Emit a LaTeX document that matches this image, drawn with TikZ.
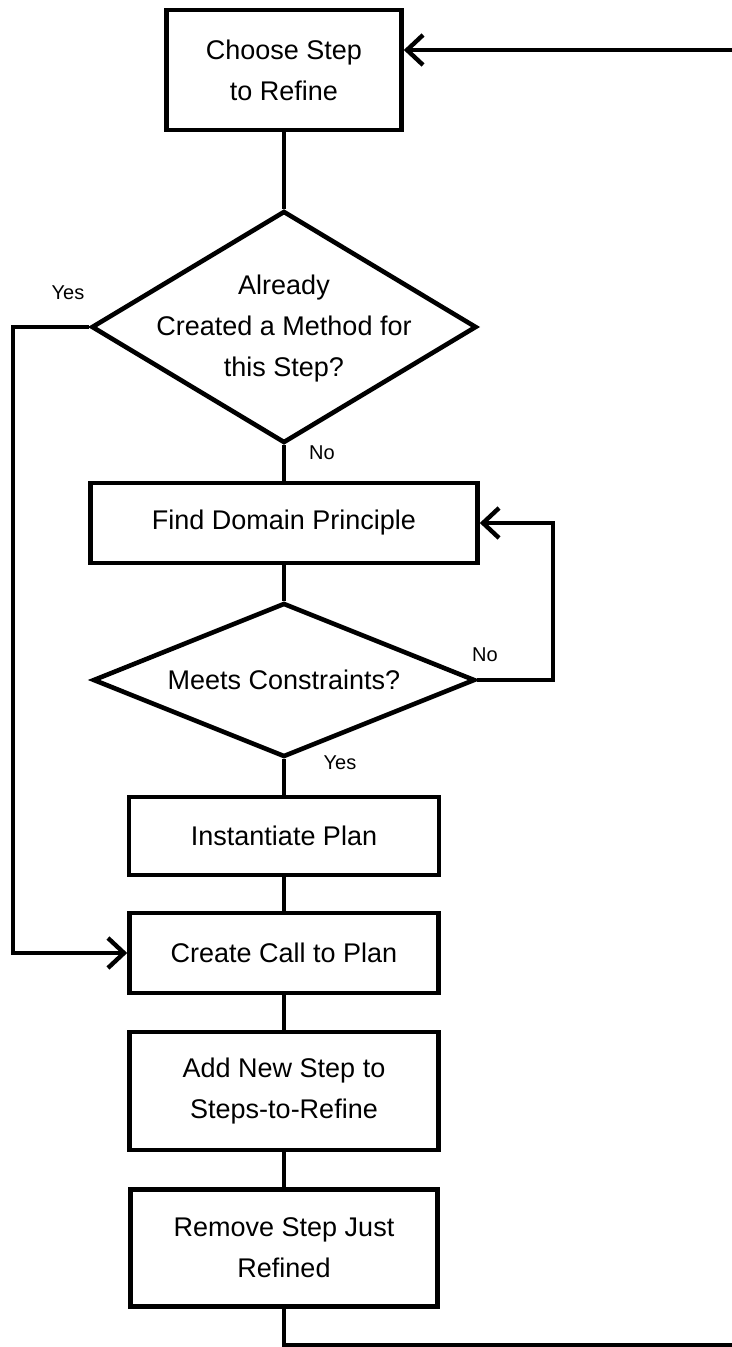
\documentclass[tikz,border=0pt]{standalone}
\usepackage{fontspec}
\setmainfont{Liberation Sans}
\usepackage{tikz}
\usetikzlibrary{positioning,arrows.meta,shapes.geometric}

\begin{document}
\begin{tikzpicture}[
    x=0.5pt, y=-0.5pt,
    every node/.style={font=\fontsize{13.5}{20.5}\selectfont, align=center},
    procbox/.style={draw, line width=2.3pt, rectangle, inner sep=0pt},
    decision/.style={draw, line width=2.3pt, diamond, aspect=2, inner sep=0pt},
    flowline/.style={draw, line width=2.2pt},
    flowarrow/.style={flowline, -{Straight Barb[length=8pt,width=15pt,line width=2.2pt]}},
    branchlabel/.style={font=\fontsize{10}{12}\selectfont},
]
\useasboundingbox (0,0) rectangle (732,1347);

% steps of the refinement loop
\node[procbox, minimum width=117.5pt, minimum height=60pt] (choose) at (284,70) {Choose Step\\to Refine};
\node[decision, minimum width=192.5pt, minimum height=116pt] (already) at (284,327)
    {\makebox[0pt]{\begin{tabular}{@{}c@{}}Already\\Created a Method for\\this Step?\end{tabular}}};
\node[procbox, minimum width=193.5pt, minimum height=40pt] (findprin) at (284,523) {Find Domain Principle};
\node[decision, minimum width=191pt, minimum height=77pt] (meets) at (284,680) {\makebox[0pt]{Meets Constraints?}};
\node[procbox, minimum width=155pt, minimum height=39pt] (instplan) at (284,836) {Instantiate Plan};
\node[procbox, minimum width=154.5pt, minimum height=40pt] (callplan) at (284,953) {Create Call to Plan};
\node[procbox, minimum width=154.5pt, minimum height=59pt] (addstep) at (284,1091) {Add New Step to\\Steps-to-Refine};
\node[procbox, minimum width=153.5pt, minimum height=58.5pt] (remstep) at (284,1248) {Remove Step Just\\Refined};

% branch labels
\node[branchlabel] (yesleft) at (68,293) {Yes};
\node[branchlabel] (nodown) at (322,453) {No};
\node[branchlabel] (noright) at (485,655) {No};
\node[branchlabel] (yesdown) at (340,763) {Yes};

% turning points
\coordinate (yesturn) at (13,327);
\coordinate (noturn) at (553,680);
\coordinate (backtop) at (733,50);
\coordinate (backbot) at (733,1345);

\draw[flowline] (choose.south) -- (already.north);
\draw[flowline] (already.south) -- (findprin.north);
\draw[flowline] (findprin.south) -- (meets.north);
\draw[flowline] (meets.south) -- (instplan.north);
\draw[flowline] (instplan.south) -- (callplan.north);
\draw[flowline] (callplan.south) -- (addstep.north);
\draw[flowline] (addstep.south) -- (remstep.north);

\draw[flowarrow] (already.west) -- (yesturn) |- (callplan.west);
\draw[flowarrow] (meets.east) -- (noturn) |- (findprin.east);
\draw[flowline] (remstep.south) |- (backbot);
\draw[flowarrow] (backtop) -- (backtop -| choose.east);
\end{tikzpicture}
\end{document}
